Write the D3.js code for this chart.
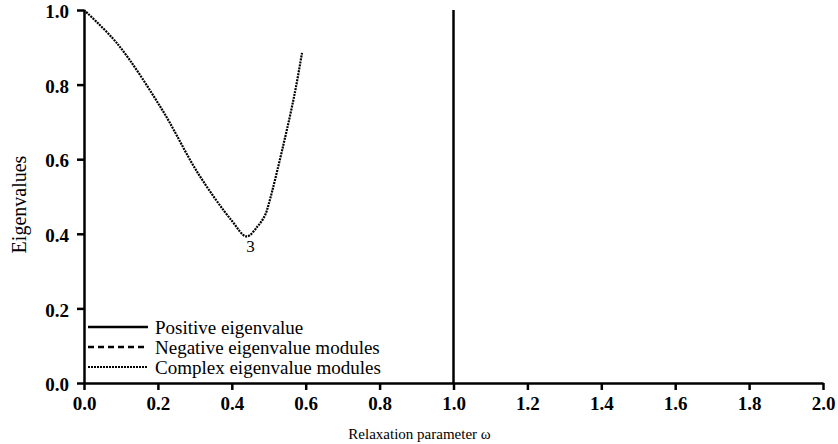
<!DOCTYPE html>
<html>
<head>
<meta charset="utf-8">
<script src="https://cdn.jsdelivr.net/npm/d3@7"></script>
<style>
  body { margin: 0; background: #fff; }
</style>
</head>
<body>
<div id="chart"></div>
<script>
// ---- data ----
const omegaComplex = [0.0, 0.09, 0.21, 0.31, 0.40, 0.44, 0.47, 0.49, 0.50, 0.54, 0.57, 0.59];
const complexModules = [1.0, 0.91, 0.735, 0.56, 0.435, 0.393, 0.42, 0.45, 0.48, 0.64, 0.775, 0.885];
const omegaPositive = [1.0, 1.0];
const positiveValues = [0.0, 1.0];
const xTicks = [0.0, 0.2, 0.4, 0.6, 0.8, 1.0, 1.2, 1.4, 1.6, 1.8, 2.0];
const yTicks = [0.0, 0.2, 0.4, 0.6, 0.8, 1.0];
const legendItems = ["Positive eigenvalue", "Negative eigenvalue modules", "Complex eigenvalue modules"];
const legendDash = [null, "6,4", "2,1"];

const FONT = "'Liberation Serif', 'Times New Roman', Times, serif";

const margin = {top: 10, right: 15, bottom: 61, left: 84};
const width = 838 - margin.left - margin.right;
const height = 444 - margin.top - margin.bottom;

const svg = d3.select("#chart")
    .append("svg")
    .attr("width", 838)
    .attr("height", 444)
    .style("font-family", FONT)
    .append("g")
    .attr("transform", "translate(" + margin.left + "," + margin.top + ")");

const x = d3.scaleLinear().domain([0, 2]).range([0, width]);
const y = d3.scaleLinear().domain([0, 1]).range([height, 0]);

// x axis
const xAxis = svg.append("g")
    .attr("transform", "translate(0," + height + ")")
    .call(d3.axisBottom(x).tickValues(xTicks).tickFormat(d3.format(".1f")).tickSize(7).tickSizeOuter(0));
xAxis.select(".domain").attr("stroke-width", 2.5);
xAxis.selectAll(".tick line").attr("stroke-width", 2.5);
xAxis.selectAll(".tick text").attr("y", 12).attr("dy", "0.8em");

// y axis
const yAxis = svg.append("g")
    .call(d3.axisLeft(y).tickValues(yTicks).tickFormat(d3.format(".1f")).tickSize(7).tickSizeOuter(0));
yAxis.select(".domain").attr("stroke-width", 2.5);
yAxis.selectAll(".tick line").attr("stroke-width", 2.5);
yAxis.selectAll(".tick text").attr("x", -15).attr("dy", "0.4em");

svg.selectAll("g").attr("font-family", null).attr("font-size", null);
svg.selectAll(".tick text")
    .style("font-family", FONT)
    .style("font-size", "19px")
    .style("font-weight", "bold")
    .attr("fill", "#000");

// axis titles
svg.append("text")
    .attr("x", x(1.0) - 34)
    .attr("y", height + 56)
    .attr("text-anchor", "middle")
    .style("font-family", FONT)
    .style("font-size", "15px")
    .text("Relaxation parameter  \u03c9");

svg.append("text")
    .attr("transform", "translate(" + (-58) + "," + (y(0.5) + 8) + ") rotate(-90)")
    .attr("text-anchor", "middle")
    .style("font-family", FONT)
    .style("font-size", "20px")
    .text("Eigenvalues");

// lines
const line = d3.line()
    .x(function(d) { return x(d[0]); })
    .y(function(d) { return y(d[1]); })
    .curve(d3.curveCatmullRom.alpha(0.5));

svg.append("path")
    .datum(omegaComplex.map(function(d, i) { return [d, complexModules[i]]; }))
    .attr("d", line)
    .attr("fill", "none")
    .attr("stroke", "#000")
    .attr("stroke-width", 2.2)
    .attr("stroke-dasharray", "2,1");

svg.append("path")
    .datum(omegaPositive.map(function(d, i) { return [d, positiveValues[i]]; }))
    .attr("d", d3.line().x(function(d) { return x(d[0]); }).y(function(d) { return y(d[1]); }))
    .attr("fill", "none")
    .attr("stroke", "#000")
    .attr("stroke-width", 2.5);

// minimum label
const minIdx = d3.minIndex(complexModules);
svg.append("text")
    .attr("x", x(omegaComplex[minIdx]) + 4)
    .attr("y", y(complexModules[minIdx]) + 16)
    .attr("text-anchor", "middle")
    .style("font-family", FONT)
    .style("font-size", "17px")
    .text("3");

// legend
const legend = svg.append("g").attr("transform", "translate(4," + (height - 56) + ")");
legendItems.forEach(function(label, i) {
    legend.append("line")
        .attr("x1", 0).attr("x2", 60)
        .attr("y1", i * 20).attr("y2", i * 20)
        .attr("stroke", "#000")
        .attr("stroke-width", i === 2 ? 2 : 2.4)
        .attr("stroke-dasharray", legendDash[i]);
    legend.append("text")
        .attr("x", 67)
        .attr("y", i * 20)
        .attr("dy", "0.35em")
        .style("font-family", FONT)
        .style("font-size", "19px")
        .text(label);
});
</script>
</body>
</html>
